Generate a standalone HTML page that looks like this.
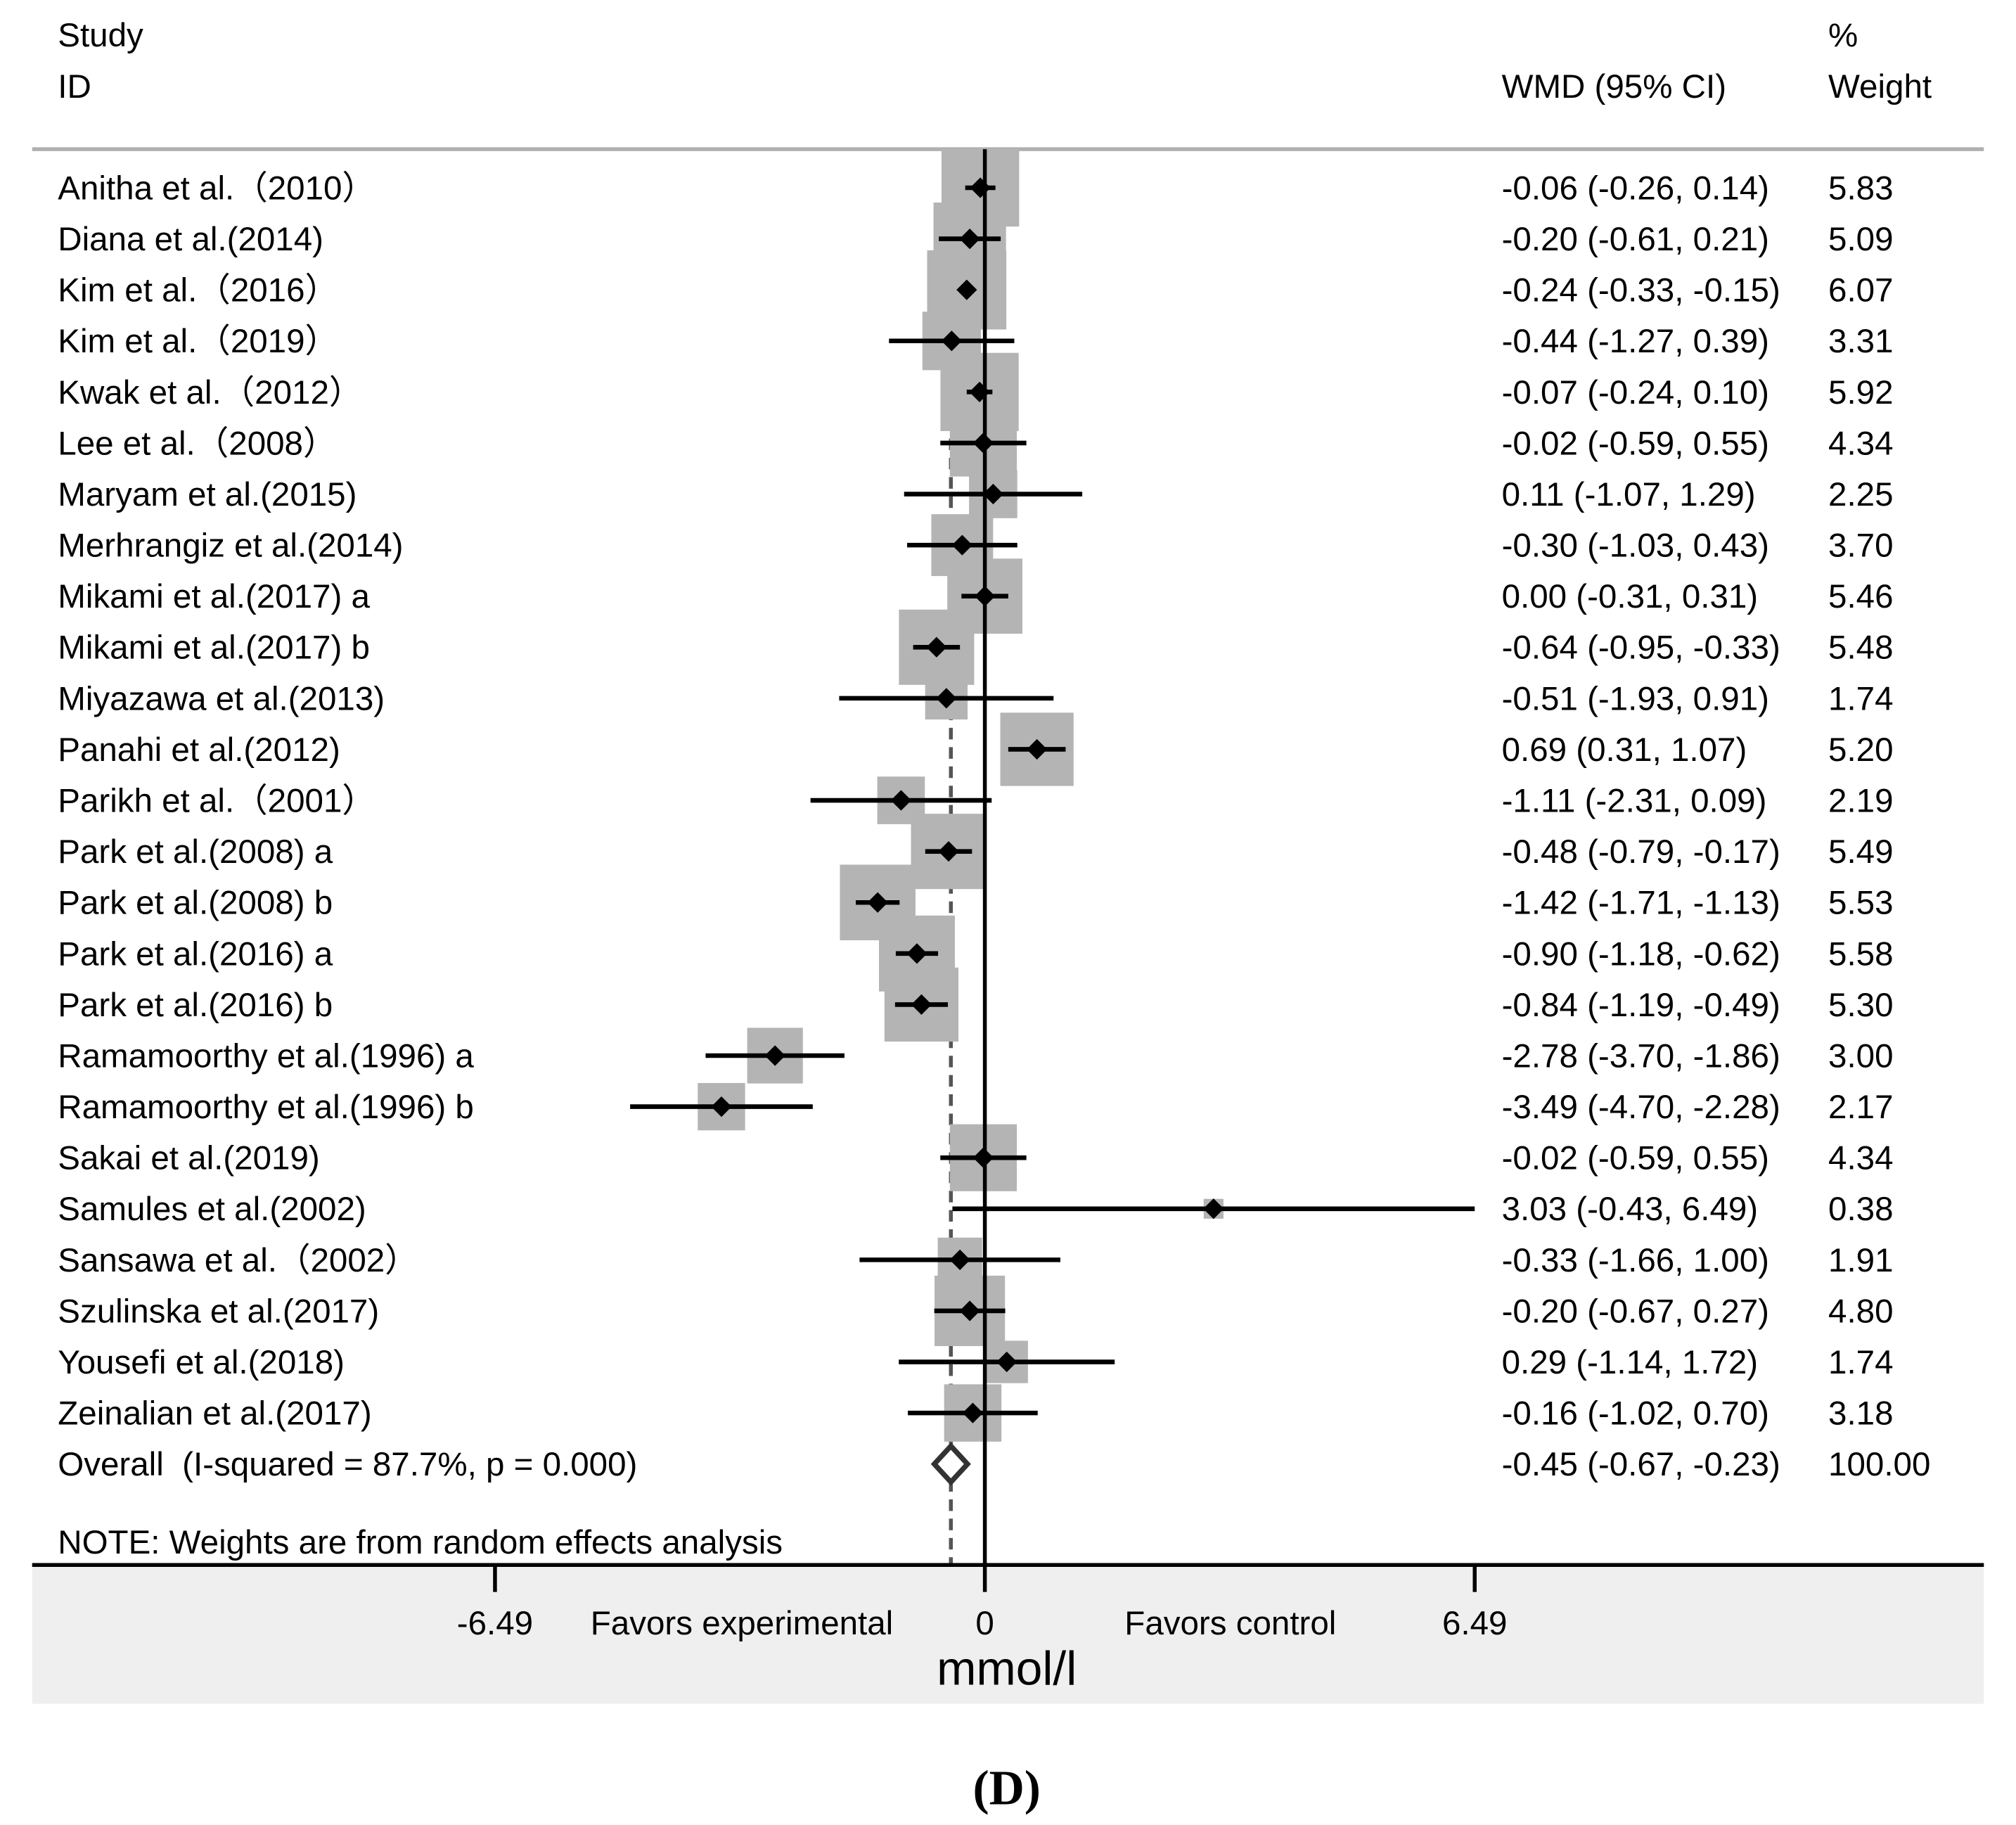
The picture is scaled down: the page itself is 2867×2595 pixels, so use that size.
<!DOCTYPE html>
<html><head><meta charset="utf-8"><style>
html,body{margin:0;padding:0;background:#fff}
svg{display:block}
text{font-family:"Liberation Sans",sans-serif;fill:#000}
</style></head><body>
<svg id="chart" width="2867" height="2595" viewBox="0 0 1568 1419.2" xmlns="http://www.w3.org/2000/svg">
<rect x="25" y="1217" width="1518" height="108" fill="#efefef"/>
<text x="45" y="36" font-size="26">Study</text>
<text x="45" y="76" font-size="26">ID</text>
<text x="1168" y="76" font-size="26">WMD (95% CI)</text>
<text x="1422" y="36" font-size="26">%</text>
<text x="1422" y="76" font-size="26">Weight</text>
<line x1="25" y1="116" x2="1543" y2="116" stroke="#b0b0b0" stroke-width="3"/>
<g id="marks"></g>
<line x1="25" y1="1217" x2="1543" y2="1217" stroke="#000" stroke-width="3"/>
<g id="axis"></g>
<text x="577" y="1271" font-size="26" text-anchor="middle">Favors experimental</text>
<text x="957" y="1271" font-size="26" text-anchor="middle">Favors control</text>
<text x="783" y="1310" font-size="37" text-anchor="middle">mmol/l</text>
<text x="45" y="1208" font-size="26">NOTE: Weights are from random effects analysis</text>
<text x="783" y="1403" font-size="38" font-weight="bold" text-anchor="middle" style="font-family:'Liberation Serif',serif">(D)</text>
</svg>
<script>
const studies=["Anitha et al.（2010）","Diana et al.(2014)","Kim et al.（2016）","Kim et al.（2019）","Kwak et al.（2012）","Lee et al.（2008）","Maryam et al.(2015)","Merhrangiz et al.(2014)","Mikami et al.(2017) a","Mikami et al.(2017) b","Miyazawa et al.(2013)","Panahi et al.(2012)","Parikh et al.（2001）","Park et al.(2008) a","Park et al.(2008) b","Park et al.(2016) a","Park et al.(2016) b","Ramamoorthy et al.(1996) a","Ramamoorthy et al.(1996) b","Sakai et al.(2019)","Samules et al.(2002)","Sansawa et al.（2002）","Szulinska et al.(2017)","Yousefi et al.(2018)","Zeinalian et al.(2017)"];
const wmd=[-0.06,-0.20,-0.24,-0.44,-0.07,-0.02,0.11,-0.30,0.00,-0.64,-0.51,0.69,-1.11,-0.48,-1.42,-0.90,-0.84,-2.78,-3.49,-0.02,3.03,-0.33,-0.20,0.29,-0.16];
const lower=[-0.26,-0.61,-0.33,-1.27,-0.24,-0.59,-1.07,-1.03,-0.31,-0.95,-1.93,0.31,-2.31,-0.79,-1.71,-1.18,-1.19,-3.70,-4.70,-0.59,-0.43,-1.66,-0.67,-1.14,-1.02];
const upper=[0.14,0.21,-0.15,0.39,0.10,0.55,1.29,0.43,0.31,-0.33,0.91,1.07,0.09,-0.17,-1.13,-0.62,-0.49,-1.86,-2.28,0.55,6.49,1.00,0.27,1.72,0.70];
const weights=[5.83,5.09,6.07,3.31,5.92,4.34,2.25,3.70,5.46,5.48,1.74,5.20,2.19,5.49,5.53,5.58,5.30,3.00,2.17,4.34,0.38,1.91,4.80,1.74,3.18];
const overall=[-0.45,-0.67,-0.23];
const overallWeight="100.00";
const ticks=[-6.49,0,6.49];
const tickLabels=["-6.49","0","6.49"];

const NS="http://www.w3.org/2000/svg";
const xs=v=>766+v*(381/6.49);
const ys=i=>146+i*39.7;
const fmt=v=>v.toFixed(2);
const g=document.getElementById('marks'), ax=document.getElementById('axis');
function mk(tag,attrs,parent,txt){const e=document.createElementNS(NS,tag);for(const k in attrs)e.setAttribute(k,attrs[k]);if(txt!==undefined)e.textContent=txt;parent.appendChild(e);return e;}
const yEnd=1217;
const dl=mk('line',{x1:xs(overall[0]),y1:116,x2:xs(overall[0]),y2:yEnd,stroke:'#555','stroke-width':3,'stroke-dasharray':'9,6'},g);


studies.forEach((s,i)=>{
  const y=ys(i);const side=25*Math.sqrt(weights[i]);
  const b=mk('rect',{x:xs(wmd[i])-side/2,y:y-side/2,width:side,height:side,fill:'#b4b4b4'},g);
  
  
});
const nl=mk('line',{x1:xs(0),y1:116,x2:xs(0),y2:yEnd,stroke:'#000','stroke-width':3},g);


studies.forEach((s,i)=>{
  const y=ys(i);
  const l=mk('line',{x1:xs(lower[i]),y1:y,x2:xs(upper[i]),y2:y,stroke:'#000','stroke-width':3.6},g);
  
  
  const x=xs(wmd[i]),d=8;
  const p=mk('polygon',{points:`${x},${y-d} ${x+d},${y} ${x},${y+d} ${x-d},${y}`,fill:'#000'},g);
  
  
  const t=mk('text',{x:45,y:y+9,'font-size':26},g,s);
  
  
  const c=mk('text',{x:1168,y:y+9,'font-size':26},g,`${fmt(wmd[i])} (${fmt(lower[i])}, ${fmt(upper[i])})`);
  
  
  const w=mk('text',{x:1422,y:y+9,'font-size':26},g,fmt(weights[i]));
  
  
});
const oy=ys(studies.length);
const dm=mk('polygon',{points:`${xs(overall[1])},${oy} ${xs(overall[0])},${oy-14} ${xs(overall[2])},${oy} ${xs(overall[0])},${oy+14}`,fill:'#fff',stroke:'#333','stroke-width':4},g);


const ol=mk('text',{x:45,y:oy+9,'font-size':26},g,'Overall\u00a0\u00a0(I-squared = 87.7%, p = 0.000)');


const oc=mk('text',{x:1168,y:oy+9,'font-size':26},g,`${fmt(overall[0])} (${fmt(overall[1])}, ${fmt(overall[2])})`);


const ow=mk('text',{x:1422,y:oy+9,'font-size':26},g,overallWeight);


ticks.forEach((v,i)=>{
  const t=mk('line',{x1:xs(v),y1:1217,x2:xs(v),y2:1238,stroke:'#000','stroke-width':3},ax);
  
  
  const l=mk('text',{x:xs(v),y:1271,'font-size':26,'text-anchor':'middle'},ax,tickLabels[i]);
  
  
});
</script>
</body></html>
